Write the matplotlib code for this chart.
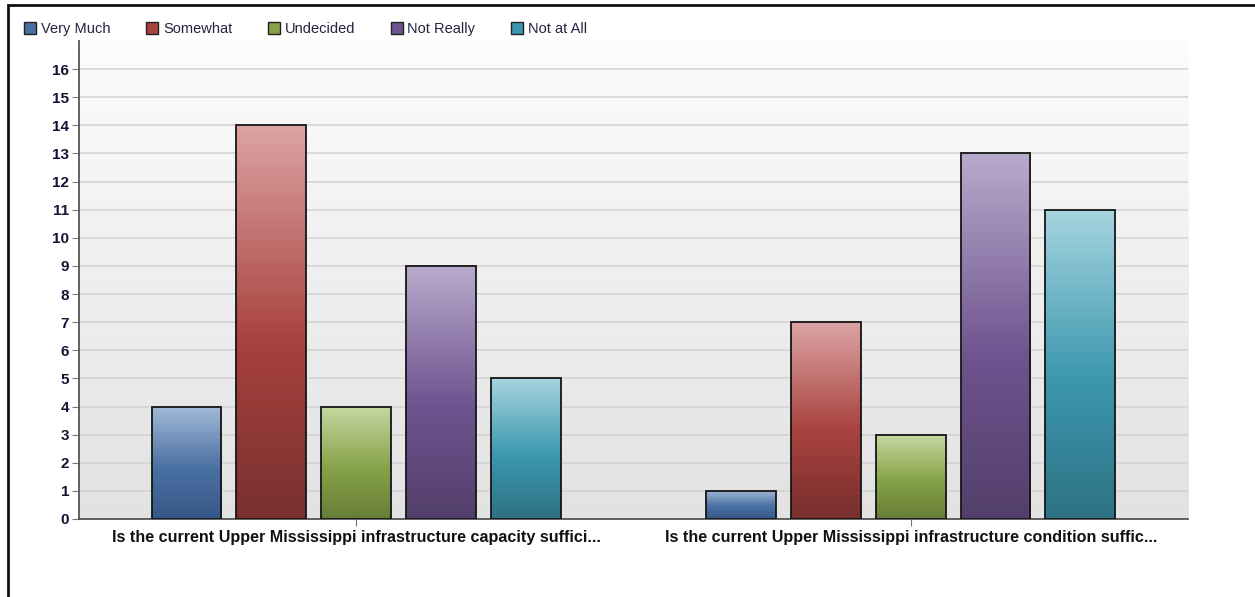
import matplotlib.pyplot as plt
import numpy as np
from matplotlib.colors import LinearSegmentedColormap
from matplotlib.patches import Patch, Rectangle

plt.rcParams['font.family'] = ['Liberation Sans', 'DejaVu Sans']

questions = [
    "Is the current Upper Mississippi infrastructure capacity suffici...",
    "Is the current Upper Mississippi infrastructure condition suffic...",
]
answers = ["Very Much", "Somewhat", "Undecided", "Not Really", "Not at All"]
counts = {
    "Very Much": [4, 1],
    "Somewhat": [14, 7],
    "Undecided": [4, 3],
    "Not Really": [9, 13],
    "Not at All": [5, 11],
}
# light top, mid body, dark bottom
shades = {
    "Very Much": ("#a3bad9", "#4a70a2", "#365888"),
    "Somewhat": ("#dca4a4", "#a8423e", "#78302f"),
    "Undecided": ("#c5d8a2", "#87a349", "#667e36"),
    "Not Really": ("#b9abcc", "#6f5490", "#533f6b"),
    "Not at All": ("#a6d5e0", "#3c97ae", "#2e7284"),
}

fig = plt.figure(figsize=(12.55, 5.97), dpi=100)
ax = fig.add_axes([0.0629, 0.1307, 0.8837, 0.8006])

ax.set_xlim(-0.5, 1.5)
ax.set_ylim(0, 17)

# background fade
bg = LinearSegmentedColormap.from_list("bg", ["#e2e2e2", "#fcfcfc"])
ax.imshow(np.linspace(0, 1, 256).reshape(-1, 1), cmap=bg, origin="lower",
          extent=(-0.5, 1.5, 0, 17), aspect="auto", zorder=0)

ax.set_yticks(range(0, 17))
ax.yaxis.grid(True, color="#d2d2d2", lw=1.1, zorder=1)
ax.set_axisbelow(True)

x = np.arange(len(questions))
step = 0.153
width = 0.126
for i, name in enumerate(answers):
    bars = ax.bar(x + (i - 2) * step, counts[name], width, facecolor="none",
                  edgecolor="#151515", lw=1.3, zorder=4)
    top, mid, bot = shades[name]
    cmap = LinearSegmentedColormap.from_list(name, [(0, bot), (0.45, mid), (1, top)])
    for b in bars:
        x0, y0 = b.get_x(), b.get_y()
        im = ax.imshow(np.linspace(0, 1, 256).reshape(-1, 1), cmap=cmap, origin="lower",
                       extent=(x0, x0 + b.get_width(), y0, y0 + b.get_height()),
                       aspect="auto", zorder=3)
        im.set_clip_path(b)

ax.set_xlim(-0.5, 1.5)
ax.set_ylim(0, 17)

ax.set_xticks(x)
ax.set_xticklabels(questions, fontsize=11.6, fontweight="bold", color="#111111")
ax.tick_params(axis="x", length=5, color="#777777", pad=3)
ax.tick_params(axis="y", length=5, color="#777777", labelsize=11,
               labelcolor="#141438", pad=2)
for lbl in ax.get_yticklabels():
    lbl.set_fontweight("bold")

for side in ("top", "right"):
    ax.spines[side].set_visible(False)
for side in ("left", "bottom"):
    ax.spines[side].set_color("#555555")
    ax.spines[side].set_linewidth(1.3)

handles = [Patch(facecolor=shades[n][1], edgecolor="#222222", lw=1) for n in answers]
fig.legend(handles, answers, loc="upper left", bbox_to_anchor=(0.009, 0.985),
           ncol=5, frameon=False, fontsize=10.5, handlelength=0.82,
           handleheight=0.82, handletextpad=0.32, columnspacing=2.45,
           labelcolor="#232340")

# outer frame
fig.patches.append(Rectangle((8 / 1255, -0.1), 1.2, 1.1 - 5 / 597,
                             transform=fig.transFigure, fill=False,
                             edgecolor="#111111", lw=2))

fig.savefig("out.png", dpi=100)
